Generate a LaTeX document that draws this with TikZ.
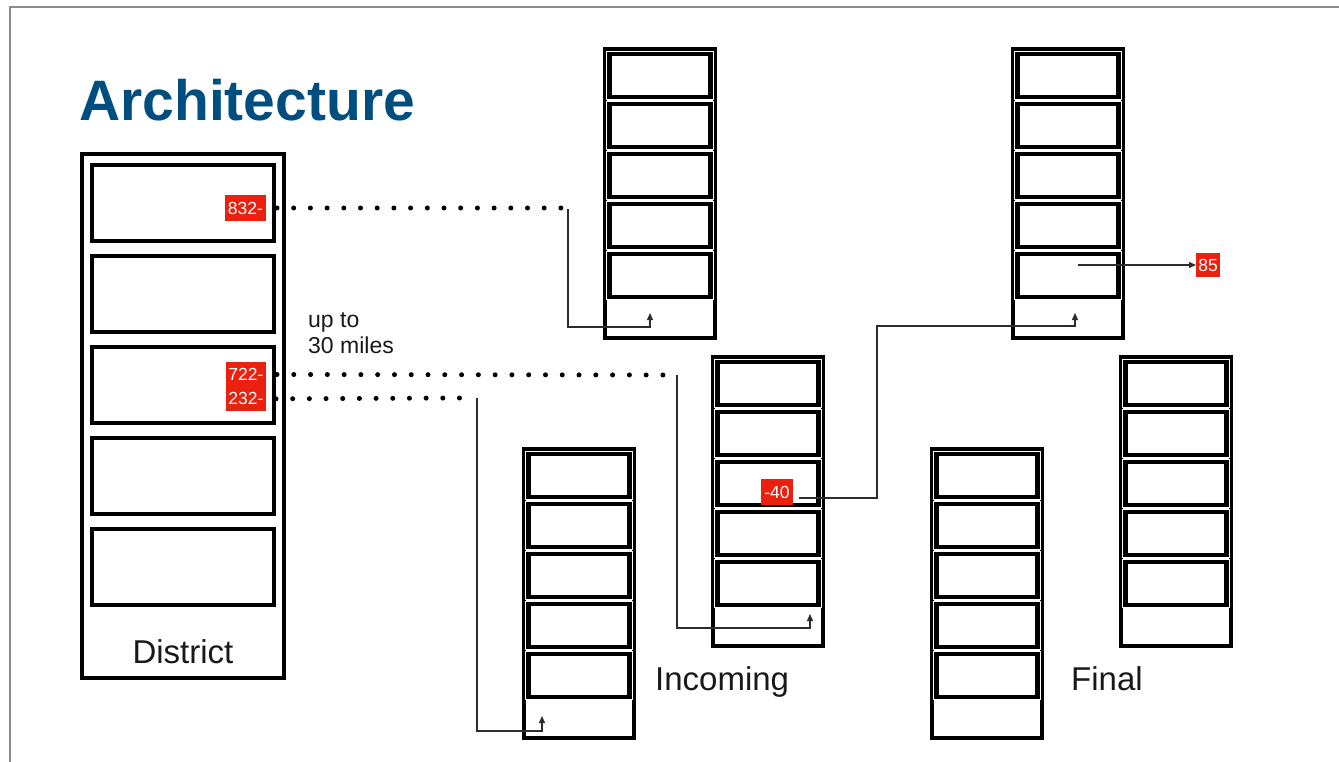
\documentclass[tikz,border=0pt]{standalone}
\usepackage{fontspec}
\setmainfont{Liberation Sans}
\usetikzlibrary{arrows.meta,calc}
\definecolor{titleblue}{RGB}{0,78,128}
\definecolor{labred}{RGB}{234,33,14}
\definecolor{framegray}{RGB}{140,140,140}
\definecolor{connline}{RGB}{45,45,45}
\definecolor{txt}{RGB}{25,25,25}
\newcommand{\smallrack}[3]{%
  \node[rackbox, anchor=north] (#1) at (#2,#3) {};
  \foreach \i in {1,...,5} {\node[slotbox] (#1-\i) at (#2,{#3+26.5+50*(\i-1)}) {};}
}
\begin{document}
\begin{tikzpicture}[x=1pt,y=-1pt,
  rackbox/.style={draw=black,line width=4.2pt,rectangle,inner sep=0pt,outer sep=0pt,minimum width=110pt,minimum height=289pt},
  slotbox/.style={draw=black,line width=4.2pt,rectangle,inner sep=0pt,outer sep=0pt,minimum width=101pt,minimum height=43pt,preaction={draw=white,line width=6.7pt}},
  bigrack/.style={draw=black,line width=4.2pt,rectangle,inner sep=0pt,outer sep=0pt,minimum width=202pt,minimum height=524pt},
  bigslot/.style={draw=black,line width=4.2pt,rectangle,inner sep=0pt,outer sep=0pt,minimum width=182pt,minimum height=76pt},
  redlab/.style={fill=labred,text=white,font=\fontsize{17.5}{20}\selectfont,inner xsep=2.5pt,inner ysep=0pt,minimum height=25pt,outer sep=0pt},
  biglabel/.style={font=\fontsize{33}{36}\selectfont,text=txt,inner sep=0pt,anchor=base west},
  smalltext/.style={font=\fontsize{23}{26}\selectfont,text=txt,inner sep=0pt,anchor=base west},
  dotline/.style={line width=5pt,line cap=round,black},
  conn/.style={line width=1.3pt,connline,-{Triangle[length=7pt,width=6pt]}},
]
\useasboundingbox (0,0) rectangle (1339,762);
% frame
\draw[framegray,line width=1.5pt] (10,762) -- (10,7) -- (1339,7);
% title
\node[anchor=base west,font=\fontsize{57}{60}\selectfont\bfseries,text=titleblue,inner sep=0pt] (title) at (79,121) {Architecture};
% district
\node[bigrack,anchor=north] (dist) at (183,154) {};
\foreach \i in {1,...,5} {\node[bigslot] (dist-\i) at (183,{203+91*(\i-1)}) {};}
\node[font=\fontsize{33}{36}\selectfont,text=txt,inner sep=0pt,anchor=base] (distlab) at (183,663) {District};
% small racks
\smallrack{ra}{660}{49}
\smallrack{rb}{1068}{49}
\smallrack{rc}{768}{357}
\smallrack{rd}{579}{449}
\smallrack{re}{987}{449}
\smallrack{rf}{1176}{357}
% labels
\node[biglabel] (incoming) at (655,690) {Incoming};
\node[biglabel] (final) at (1071,690) {Final};
\node[smalltext] (upto) at (308,327) {up to};
\node[smalltext] (miles) at (308,353) {30 miles};
% red labels
\node[redlab,anchor=east,minimum height=25.5pt,minimum width=41pt] (l832) at (266,208) {832-};
\node[redlab,anchor=east,minimum height=24.5pt,minimum width=40pt] (l722) at (266,374.5) {722-};
\node[redlab,anchor=east,minimum height=24.5pt,minimum width=40pt] (l232) at (266,398.8) {232-};
\node[redlab,minimum height=26pt,minimum width=32pt] (lm40) at (777,492) {-40};
\node[redlab,minimum height=24pt,minimum width=24pt,inner xsep=2pt] (l85) at (1208,265) {85};
% connector coordinates
\coordinate (e1) at (562,208);
\coordinate (c1) at (568,209);
\coordinate (k1) at (650,327);
\coordinate (a1) at (650,313);
\coordinate (e2) at (664,375);
\coordinate (c2) at (677,375);
\coordinate (k2) at (810,628);
\coordinate (a2) at (810,614);
\coordinate (e3) at (460,398);
\coordinate (c3) at (477,398);
\coordinate (k3) at (542,731);
\coordinate (a3) at (542,716);
\coordinate (c4) at (799,498);
\coordinate (m4) at (877,326);
\coordinate (a4) at (1075,313);
\coordinate (c5) at (1078,265);
% dotted links
\draw[dotline,dash pattern=on 0pt off 16.7pt] ([xshift=11pt]l832.east) -- (e1);
\draw[dotline,dash pattern=on 0pt off 16.78pt] ([xshift=11pt]l722.east) -- (e2);
\draw[dotline,dash pattern=on 0pt off 16.68pt] ([xshift=10pt]l232.east) -- (e3);
% thin connectors
\draw[conn] (c1) |- (k1) -- (a1);
\draw[conn] (c2) |- (k2) -- (a2);
\draw[conn] (c3) |- (k3) -- (a3);
\draw[conn] (c4) -| (m4) -| (a4);
\draw[conn] (c5) -- (l85.west);
\end{tikzpicture}
\end{document}
